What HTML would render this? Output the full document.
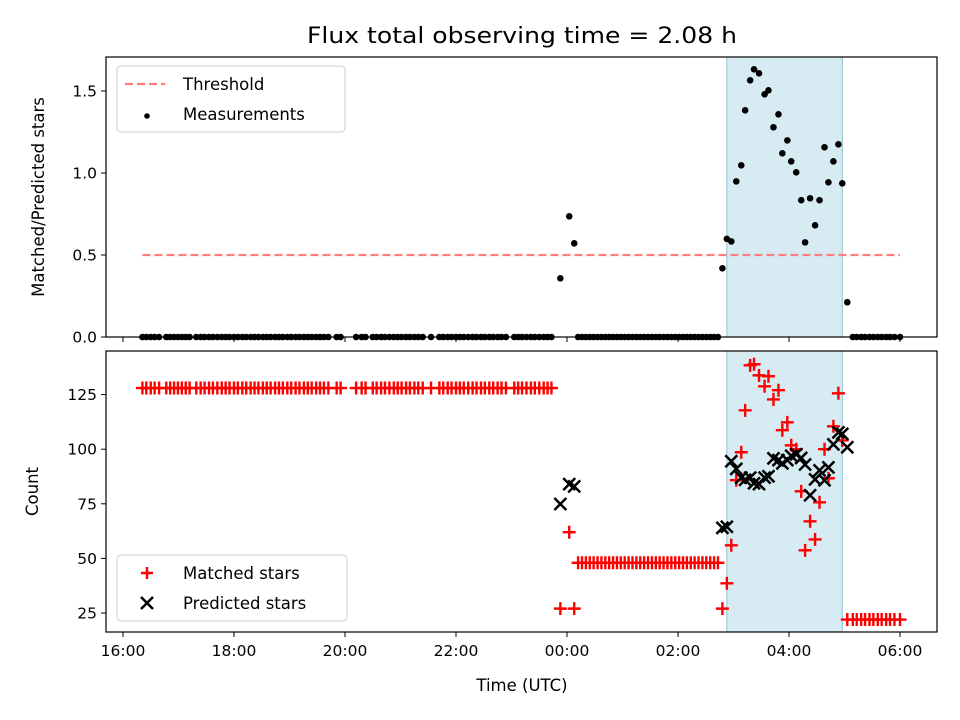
<!DOCTYPE html>
<html><head><meta charset="utf-8"><style>
body{margin:0;background:#fff}
svg{display:block;font-family:"DejaVu Sans","Liberation Sans",sans-serif}
</style></head><body>
<svg id="chart" width="960" height="720" viewBox="0 0 960 720" xmlns="http://www.w3.org/2000/svg">
<text x="522" y="43" text-anchor="middle" font-size="22" fill="#000" textLength="430" lengthAdjust="spacingAndGlyphs">Flux total observing time = 2.08 h</text>
<g id="topPanel"></g>
<g id="botPanel"></g>
</svg>
<script>
// hours after 16:00
const activeTimes = [7.88,8.04,8.13,10.80,10.88,10.96,11.05,11.14,11.21,11.30,11.37,11.46,11.56,11.63,11.72,11.81,11.88,11.97,12.04,12.13,12.22,12.29,12.38,12.47,12.55,12.64,12.71,12.80,12.89,12.96,13.05];
const activeRatio = [0.358,0.736,0.571,0.419,0.598,0.583,0.949,1.047,1.382,1.565,1.632,1.608,1.480,1.504,1.279,1.358,1.120,1.199,1.071,1.004,0.834,0.577,0.846,0.681,0.834,1.157,0.943,1.071,1.175,0.937,0.212];
const activeMatched = [27,62,27,27,38.6,56,85.8,98.6,117.8,138.4,138.9,133.8,128.8,133.4,122.8,127,108.7,112.3,101.8,100,80.7,53.7,67,58.7,75.7,100,86.7,110.5,125.6,104,22];
const activePredicted = [74.9,84,83,64,64.5,94.5,91,87,86,87,84.4,84,87,87.6,95.8,95,93.5,95,97,97.7,96,93,78.9,86.2,90.3,85.8,91.7,102.2,107.7,107,100.9];
const earlyTimes = [0.35,0.42,0.5,0.57,0.65,0.78,0.85,0.92,0.99,1.06,1.13,1.2,1.32,1.4,1.47,1.55,1.62,1.7,1.78,1.85,1.92,2.0,2.07,2.15,2.22,2.3,2.37,2.44,2.52,2.59,2.66,2.74,2.81,2.88,2.96,3.03,3.11,3.18,3.26,3.33,3.4,3.48,3.55,3.62,3.7,3.85,3.92,4.2,4.3,4.37,4.5,4.57,4.65,4.72,4.8,4.88,4.95,5.02,5.1,5.17,5.25,5.32,5.4,5.55,5.7,5.77,5.85,5.92,6.0,6.07,6.14,6.22,6.3,6.37,6.45,6.52,6.6,6.67,6.75,6.82,6.9,7.05,7.12,7.19,7.27,7.35,7.42,7.5,7.58,7.65,7.72];
const earlyMatched = [128];
const midTimes = [8.2,8.27,8.34,8.41,8.48,8.55,8.62,8.69,8.76,8.83,8.9,8.97,9.04,9.11,9.18,9.25,9.32,9.39,9.46,9.53,9.6,9.67,9.74,9.81,9.88,9.95,10.02,10.09,10.16,10.23,10.3,10.37,10.44,10.51,10.58,10.65,10.72];
const zeroRatio = [0];
const midMatched = [48];
const lateTimes = [13.15,13.22,13.3,13.37,13.45,13.52,13.6,13.67,13.75,13.82,13.9,14.0];
const lateMatched = [22];
const threshold = [0.5];
const thresholdSpan = [0.35,14.0];
const shadeSpan = [10.88,12.96];
const xTicks = ["16:00","18:00","20:00","22:00","00:00","02:00","04:00","06:00"];
const xTickHours = [0,2,4,6,8,10,12,14];
const topTicks = [0,0.5,1.0,1.5];
const botTicks = [25,50,75,100,125];

const NS="http://www.w3.org/2000/svg";
const L=106,R=937,T1=57,B1=337,T2=351,B2=632;
const xs=t=>123+t*55.5;
const y1=v=>337-v*164;
const y2=c=>613-(c-25)*2.184;
function mk(tag,a,p){const e=document.createElementNS(NS,tag);for(const k in a)e.setAttribute(k,a[k]);p.appendChild(e);return e;}
const topG=document.getElementById('topPanel'),botG=document.getElementById('botPanel');

function panel(g,T,B,tickVals,yf,fmt,ylabel,lx){
  const sh=mk('rect',{x:xs(shadeSpan[0]),y:T,width:xs(shadeSpan[1])-xs(shadeSpan[0]),height:B-T,fill:'#add8e6','fill-opacity':0.5,stroke:'#8fc3d3','stroke-width':1},g);
  
  
  tickVals.forEach(v=>{
    const yy=yf(v);
    mk('line',{x1:L-5,x2:L,y1:yy,y2:yy,stroke:'#000','stroke-width':1},g);
    const t=mk('text',{x:L-9,y:yy+5.5,'text-anchor':'end','font-size':15.5},g);t.textContent=fmt(v);
    
    
  });
  xTickHours.forEach(h=>mk('line',{x1:xs(h),x2:xs(h),y1:B,y2:B+5,stroke:'#000','stroke-width':1},g));
  const yl=mk('text',{x:0,y:0,'text-anchor':'middle','font-size':16.5,transform:`translate(${lx},${(T+B)/2}) rotate(-90)`},g);
  yl.textContent=ylabel;
  
  
}
panel(topG,T1,B1,topTicks,y1,v=>v.toFixed(1),'Matched/Predicted stars',44);
panel(botG,T2,B2,botTicks,y2,v=>String(v),'Count',38);

const th=mk('line',{x1:xs(thresholdSpan[0]),x2:xs(thresholdSpan[1]),y1:y1(threshold[0]),y2:y1(threshold[0]),stroke:'#ff7f7f','stroke-width':2.3,'stroke-dasharray':'8,4'},topG);



function dot(t,v){const c=mk('circle',{cx:xs(t),cy:y1(v),r:3.3,fill:'#000'},topG);
  
  }
earlyTimes.forEach(t=>dot(t,zeroRatio[0]));
midTimes.forEach(t=>dot(t,zeroRatio[0]));
lateTimes.forEach(t=>dot(t,zeroRatio[0]));
activeTimes.forEach((t,i)=>dot(t,activeRatio[i]));

function plus(t,c){const cx=xs(t),cy=y2(c);const p=mk('path',{d:`M${cx-6.5},${cy}H${cx+6.5}M${cx},${cy-6.5}V${cy+6.5}`,stroke:'#f00','stroke-width':2.4,fill:'none'},botG);
  
  }
function cross(t,c){const cx=xs(t),cy=y2(c);const p=mk('path',{d:`M${cx-6},${cy-6}L${cx+6},${cy+6}M${cx-6},${cy+6}L${cx+6},${cy-6}`,stroke:'#000','stroke-width':2.5,fill:'none'},botG);
  
  }
earlyTimes.forEach(t=>plus(t,earlyMatched[0]));
midTimes.forEach(t=>plus(t,midMatched[0]));
lateTimes.forEach(t=>plus(t,lateMatched[0]));
activeTimes.forEach((t,i)=>plus(t,activeMatched[i]));
activeTimes.forEach((t,i)=>cross(t,activePredicted[i]));

[[T1,B1,topG],[T2,B2,botG]].forEach(([T,B,g])=>{const f=mk('rect',{x:L,y:T,width:R-L,height:B-T,fill:'none',stroke:'#000','stroke-width':1.2},g);
  
  });
xTicks.forEach((s,i)=>{const t=mk('text',{x:xs(xTickHours[i]),y:B2+24,'text-anchor':'middle','font-size':15.5},botG);t.textContent=s;
  
  });
const xt=mk('text',{x:522,y:691,'text-anchor':'middle','font-size':16.5},botG);xt.textContent='Time (UTC)';



function legend(g,bx,by,w,items,name){
  const lg=mk('g',{},g);
  
  
  mk('rect',{x:bx,y:by,width:w,height:66,rx:4,fill:'#fff','fill-opacity':0.8,stroke:'#ccc','stroke-width':1},lg);
  items.forEach((it,i)=>{
    const cy=by+18+i*30;
    it.draw(lg,bx+30,cy);
    const t=mk('text',{x:bx+66,y:cy+6,'font-size':16.5},lg);t.textContent=it.label;
    
    
  });
}
legend(topG,117,66,228,[
 {label:'Threshold',draw:(g,cx,cy)=>mk('line',{x1:cx-22,x2:cx+18,y1:cy,y2:cy,stroke:'#ff7f7f','stroke-width':2.3,'stroke-dasharray':'8,4'},g)},
 {label:'Measurements',draw:(g,cx,cy)=>mk('circle',{cx:cx,cy:cy+2,r:2.8,fill:'#000'},g)}
],'top-legend');
legend(botG,117,555,230,[
 {label:'Matched stars',draw:(g,cx,cy)=>mk('path',{d:`M${cx-6},${cy}H${cx+6}M${cx},${cy-6}V${cy+6}`,stroke:'#f00','stroke-width':2.4,fill:'none'},g)},
 {label:'Predicted stars',draw:(g,cx,cy)=>mk('path',{d:`M${cx-6},${cy-6}L${cx+6},${cy+6}M${cx-6},${cy+6}L${cx+6},${cy-6}`,stroke:'#000','stroke-width':2.5,fill:'none'},g)}
],'bottom-legend');
</script>
</body></html>
